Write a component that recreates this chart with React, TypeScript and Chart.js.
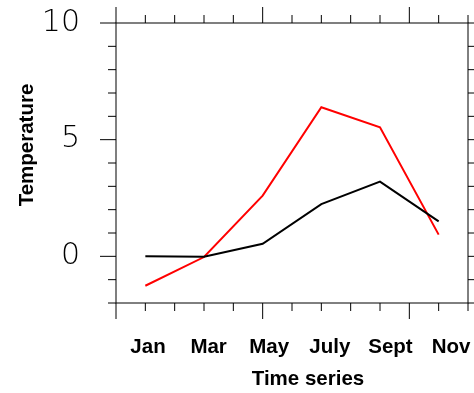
import React, { useEffect, useRef } from 'react';
import { Chart, registerables } from 'chart.js';

Chart.register(...registerables);

// ---- data ----
const monthLabels = ['Jan', 'Mar', 'May', 'July', 'Sept', 'Nov'];
const monthPositions = [1, 3, 5, 7, 9, 11];
const seriesBlack = [0, -0.02, 0.54, 2.24, 3.2, 1.5];
const seriesRed = [-1.26, -0.03, 2.6, 6.39, 5.53, 0.93];
const yTickValues = [0, 5, 10];
const xTitle = 'Time series';
const yTitle = 'Temperature';

const boldFont = '"Liberation Sans", Arial, Helvetica, sans-serif';

const framePlugin = {
  id: 'nclFrame',
  afterDraw(chart: any) {
    const { ctx, chartArea: a } = chart;
    const xs = chart.scales.x;
    const ys = chart.scales.y;
    ctx.save();
    ctx.strokeStyle = '#000';
    ctx.lineWidth = 1;
    ctx.strokeRect(a.left, a.top, a.right - a.left, a.bottom - a.top);
    ctx.beginPath();
    for (let v = xs.min; v <= xs.max; v++) {
      const px = xs.getPixelForValue(v);
      const len = v % 5 === 0 ? 16 : 8;
      ctx.moveTo(px, a.bottom);
      ctx.lineTo(px, a.bottom + len);
      ctx.moveTo(px, a.top);
      ctx.lineTo(px, a.top - len);
    }
    for (let v = ys.min; v <= ys.max; v++) {
      const py = ys.getPixelForValue(v);
      const len = v % 5 === 0 ? 16 : 8;
      ctx.moveTo(a.left, py);
      ctx.lineTo(a.left - len, py);
      ctx.moveTo(a.right, py);
      ctx.lineTo(a.right + len, py);
    }
    ctx.stroke();
    ctx.fillStyle = '#000';
    ctx.font = `bold 20.5px ${boldFont}`;
    ctx.textAlign = 'center';
    ctx.textBaseline = 'middle';
    ctx.fillText(xTitle, 308, 379);
    ctx.translate(27, 145);
    ctx.rotate(-Math.PI / 2);
    ctx.fillText(yTitle, 0, 0);
    ctx.restore();
  },
};

const noPad = (s: any) => {
  s.paddingTop = 0;
  s.paddingBottom = 0;
  s.paddingLeft = 0;
  s.paddingRight = 0;
};

export default function App() {
  const ref = useRef<HTMLCanvasElement | null>(null);
  useEffect(() => {
    if (!ref.current) return;
    const chart = new Chart(ref.current, {
      type: 'line',
      data: {
        datasets: [
          {
            data: monthPositions.map((x, i) => ({ x, y: seriesBlack[i] })),
            borderColor: '#000000',
            borderWidth: 2,
            pointRadius: 0,
            fill: false,
            tension: 0,
            xAxisID: 'x',
            yAxisID: 'y',
          },
          {
            data: monthPositions.map((x, i) => ({ x, y: seriesRed[i] })),
            borderColor: '#ff0000',
            borderWidth: 2,
            pointRadius: 0,
            fill: false,
            tension: 0,
            xAxisID: 'x',
            yAxisID: 'y',
          },
        ],
      },
      options: {
        animation: false,
        responsive: false,
        devicePixelRatio: 1,
        layout: { padding: { top: 23, right: 6, left: 0, bottom: 0 } },
        plugins: { legend: { display: false }, tooltip: { enabled: false } },
        scales: {
          x: { type: 'linear', display: false, min: 0, max: 12, afterFit: noPad },
          xl: {
            type: 'linear',
            position: 'bottom',
            min: -0.056,
            max: 11.56,
            grid: { display: false, drawTicks: false },
            border: { display: false },
            afterFit: (s: any) => {
              s.height = 90;
              noPad(s);
            },
            afterBuildTicks: (s: any) => {
              s.ticks = monthPositions.map((v) => ({ value: v }));
            },
            ticks: {
              autoSkip: false,
              maxRotation: 0,
              padding: 32,
              color: '#000',
              font: { family: boldFont, size: 20.5, weight: 'bold' },
              callback: (v: any) => monthLabels[monthPositions.indexOf(Number(v))] ?? '',
            },
          },
          y: {
            type: 'linear',
            min: -2,
            max: 10,
            grid: { display: false, drawTicks: false },
            border: { display: false },
            afterFit: (s: any) => {
              s.width = 116;
              noPad(s);
            },
            afterBuildTicks: (s: any) => {
              s.ticks = yTickValues.map((v) => ({ value: v }));
            },
            ticks: {
              autoSkip: false,
              padding: 36,
              color: '#000',
              font: { family: '"DejaVu Sans", sans-serif', size: 30, weight: '200' },
              callback: (v: any) => String(v),
            },
          },
        },
      } as any,
      plugins: [framePlugin],
    });
    return () => chart.destroy();
  }, []);
  return (
    <div style={{ position: 'absolute', left: 0, top: 0, width: 474, height: 393, background: '#fff' }}>
      <canvas ref={ref} width={474} height={393} />
    </div>
  );
}
